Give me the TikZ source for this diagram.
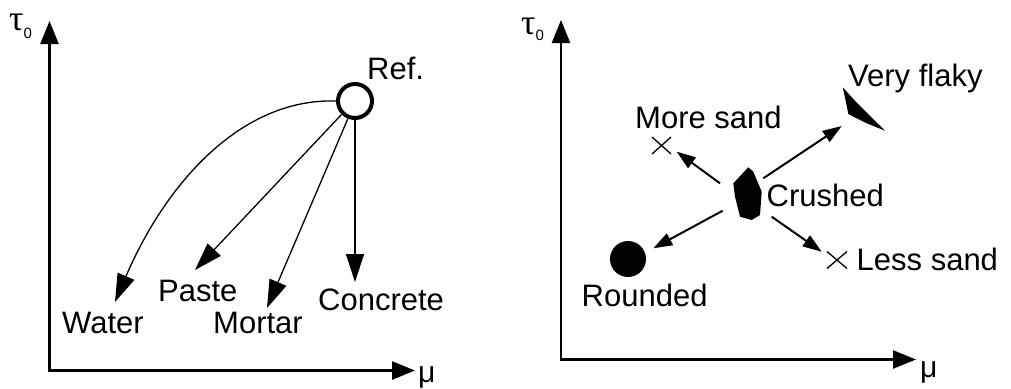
\documentclass[tikz,border=0pt]{standalone}
\usepackage{fontspec}
\setmainfont{Liberation Sans}
\newfontfamily\greekserif{Liberation Serif}
\usetikzlibrary{arrows.meta}
\begin{document}
\begin{tikzpicture}[x=1pt,y=-1pt,
  axis/.style={line width=2.5pt,-{Triangle[length=23pt,width=18pt]}},
  leftarr/.style={line width=1.3pt,-{Triangle[length=28pt,width=18pt]}},
  rightarr/.style={line width=2pt,-{Triangle[length=19pt,width=13pt]}},
  lbl/.style={anchor=base west,inner sep=0pt,font=\fontsize{31}{36}\selectfont},
  taulbl/.style={anchor=base west,inner sep=0pt,font=\greekserif\fontsize{36}{40}\selectfont},
  mulbl/.style={anchor=base west,inner sep=0pt,font=\fontsize{30}{34}\selectfont}]
\useasboundingbox (0,0) rectangle (1011,388);

% ---------- left panel ----------
\coordinate (lo) at (49.5,370.5);
\coordinate (ly) at (49.5,21);
\coordinate (lx) at (415,370.5);
\draw[axis] ([yshift=-1.25pt]lo) -- (ly);
\draw[axis] ([xshift=-1.25pt]lo) -- (lx);
\node[taulbl] (ltau) at (9,30) {τ\raisebox{-8pt}{\normalfont\fontsize{15}{15}\selectfont 0}};
\node[mulbl] (lmu) at (418,382) {μ};

\node[circle,draw,line width=4pt,minimum size=34pt,inner sep=0pt] (ref) at (355,101) {};
\node[lbl] (reft) at (367,79) {Ref.};

\coordinate (wtip) at (115,302);
\coordinate (ptip) at (195,270);
\coordinate (mtip) at (267,308);
\coordinate (ctip) at (355,282);
\draw[leftarr] (ref.west) .. controls (240,98) and (165,185) .. (wtip);
\draw[leftarr] (ref.-135) -- (ptip);
\draw[leftarr] (ref.-112) -- (mtip);
\draw[leftarr] (ref.south) -- (ctip);

\node[lbl] (water) at (62,333) {Water};
\node[lbl] (paste) at (158,301.5) {Paste};
\node[lbl] (mortar) at (213,333) {Mortar};
\node[lbl] (concrete) at (318,310) {Concrete};

% ---------- right panel ----------
\coordinate (ro) at (561,359.5);
\coordinate (ry) at (561,20);
\coordinate (rx) at (916,359.5);
\draw[axis] ([yshift=-1.25pt]ro) -- (ry);
\draw[axis] ([xshift=-1.25pt]ro) -- (rx);
\node[taulbl] (rtau) at (521,34) {τ\raisebox{-6pt}{\normalfont\fontsize{15}{15}\selectfont 0}};
\node[mulbl] (rmu) at (920,377) {μ};

% crushed particle
\fill (733.3,183.3) -- (748.3,167.3) -- (753.3,171.7) -- (761.7,191.7) -- (760,215)
      -- (751.7,220) -- (740,216.7) -- (735,196.7) -- cycle;
% very flaky particle
\fill (842.7,87.3) -- (857,103) -- (885,130.7) -- (866,123) -- (848.3,114) -- (845.5,100) -- cycle;
% rounded particle
\fill (628,259) circle (18);
% crosses
\draw[line width=1.3pt] (652,137) -- (671,154) (652,154) -- (671,137);
\draw[line width=1.3pt] (827,251.5) -- (847,268.5) (827,268.5) -- (847,251.5);

\coordinate (c-nw) at (720,183.3);
\coordinate (c-ne) at (763.3,178.3);
\coordinate (c-sw) at (722.7,210.7);
\coordinate (c-se) at (771.7,216.7);
\coordinate (moretip) at (676.7,151.7);
\coordinate (flakytip) at (841.7,126);
\coordinate (roundtip) at (653.3,248.3);
\coordinate (lesstip) at (821.7,251.7);
\draw[rightarr] (c-nw) -- (moretip);
\draw[rightarr] (c-ne) -- (flakytip);
\draw[rightarr] (c-sw) -- (roundtip);
\draw[rightarr] (c-se) -- (lesstip);

\node[lbl] (vflaky) at (848,86) {Very flaky};
\node[lbl] (moresand) at (635,128.3) {More sand};
\node[lbl] (crushed) at (766.5,206.7) {Crushed};
\node[lbl] (lesssand) at (856.5,270) {Less sand};
\node[lbl] (rounded) at (581.5,306) {Rounded};
\end{tikzpicture}
\end{document}
